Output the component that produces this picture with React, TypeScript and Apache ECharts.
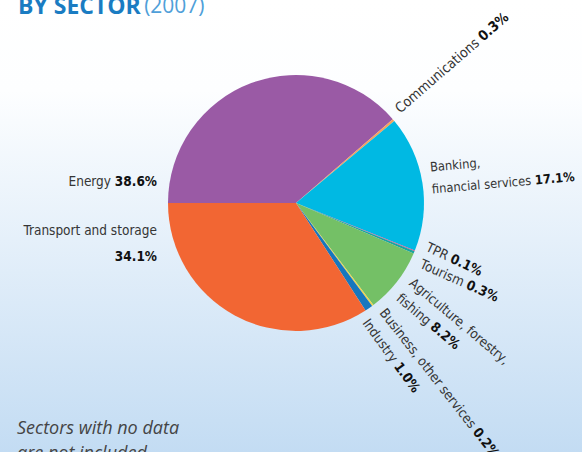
import React, { useEffect, useRef } from "react";
import * as echarts from "echarts";

const categories = [
  "Energy",
  "Communications",
  "Banking,\nfinancial services",
  "TPR",
  "Tourism",
  "Agriculture, forestry,\nfishing",
  "Business, other services",
  "Industry",
  "Transport and storage\n",
];
const shares = [38.6, 0.3, 17.1, 0.1, 0.3, 8.2, 0.2, 1.0, 34.1];
const colors = [
  "#9a5aa5",
  "#f5a25d",
  "#00b9e3",
  "#e8488a",
  "#1aa3a0",
  "#74c066",
  "#f2d54a",
  "#1677be",
  "#f26633",
];

const FONT = "'Liberation Sans Narrow', 'DejaVu Sans Condensed', 'Roboto', sans-serif";

// label placement (annotation layout, by slice index)
const labelPlaces = [
  { x: 157, y: 181, rotate: 0, align: "right", verticalAlign: "middle", size: 13.5, lh: 20 },
  { x: 397, y: 110, rotate: 41, align: "left", verticalAlign: "middle", size: 14, lh: 20 },
  { x: 431, y: 178, rotate: 5, align: "left", verticalAlign: "middle", size: 12.8, lh: 22 },
  { x: 427, y: 246, rotate: -25, align: "left", verticalAlign: "middle", size: 13.5, lh: 20 },
  { x: 421, y: 263, rotate: -24, align: "left", verticalAlign: "middle", size: 13.5, lh: 20 },
  { x: 418, y: 273, rotate: -40, align: "left", verticalAlign: "top", size: 13.5, lh: 20 },
  { x: 383, y: 310, rotate: -52, align: "left", verticalAlign: "middle", size: 13.5, lh: 20 },
  { x: 366, y: 320, rotate: -54, align: "left", verticalAlign: "middle", size: 13.5, lh: 20 },
  { x: 157, y: 243, rotate: 0, align: "right", verticalAlign: "middle", size: 13.5, lh: 26 },
];

export default function App() {
  const ref = useRef<HTMLDivElement>(null);
  useEffect(() => {
    document.body.style.margin = "0";
    const chart = echarts.init(ref.current!, null, { renderer: "svg" });
    chart.setOption({
      animation: false,
      backgroundColor: {
        type: "linear",
        x: 0,
        y: 0,
        x2: 0,
        y2: 1,
        colorStops: [
          { offset: 0, color: "#ffffff" },
          { offset: 0.2, color: "#fdfeff" },
          { offset: 1, color: "#c3dcf3" },
        ],
      },
      graphic: [
        {
          type: "text",
          x: 18,
          y: 16,
          style: {
            text: "{b|BY SECTOR} {l|(2007)}",
            verticalAlign: "bottom",
            rich: {
              b: { fontFamily: "'Open Sans', sans-serif", fontWeight: "bold", fontSize: 23, fill: "#1a7cc2", color: "#1a7cc2" },
              l: { fontFamily: "'Open Sans', sans-serif", fontWeight: "normal", fontSize: 21, fill: "#4f9fd9", color: "#4f9fd9" },
            },
          },
        },
        {
          type: "text",
          x: 17,
          y: 414,
          style: {
            text: "Sectors with no data\nare not included",
            fontFamily: "'Open Sans', sans-serif",
            fontStyle: "italic",
            fontSize: 18,
            lineHeight: 25,
            fill: "#444444",
            verticalAlign: "top",
          },
        },
      ],
      series: [
        {
          type: "pie",
          center: [296, 203],
          radius: 128,
          startAngle: 180,
          clockwise: true,
          avoidLabelOverlap: false,
          itemStyle: { borderWidth: 0 },
          emphasis: { disabled: true },
          labelLine: { show: false },
          label: {
            show: true,
            position: "outside",
            formatter: (p: any) => `{n|${p.name}}{n| }{v|${p.value.toFixed(1)}%}`,
          },
          labelLayout: (params: any) => {
            const p = labelPlaces[params.dataIndex];
            return { x: p.x, y: p.y, rotate: p.rotate, align: p.align, verticalAlign: p.verticalAlign };
          },
          data: categories.map((c, i) => {
            const s = labelPlaces[i].size;
            const lh = labelPlaces[i].lh;
            return {
              name: c,
              value: shares[i],
              itemStyle: { color: colors[i] },
              label: {
                rich: {
                  n: { fontFamily: FONT, fontSize: s, color: "#353535", lineHeight: lh },
                  v: { fontFamily: FONT, fontSize: s, fontWeight: "bold", color: "#111111", lineHeight: lh },
                },
              },
            };
          }),
        },
      ],
    });
    return () => chart.dispose();
  }, []);
  return <div ref={ref} style={{ width: 582, height: 452 }} />;
}
